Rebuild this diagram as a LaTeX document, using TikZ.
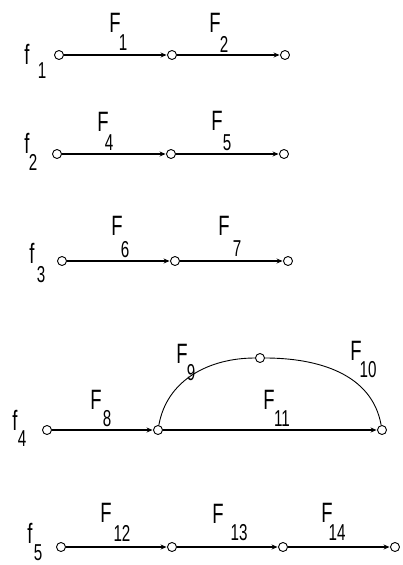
\documentclass[tikz,border=0pt]{standalone}
\usepackage{fontspec}
\usepackage{tikz}
\usetikzlibrary{arrows.meta}
\newfontfamily\graphfont{Liberation Sans}[FakeStretch=0.66]
\tikzset{
  % vertex: small open circle
  vtx/.style={circle, draw=black, fill=white, line width=0.9pt, minimum size=9pt, inner sep=0pt},
  % directed flow edge
  flow/.style={-{Stealth[length=6pt,width=5pt]}, line width=1.2pt, black, shorten >=0.5pt},
  % curved edge, no tip
  bow/.style={line width=0.9pt, black},
  % main letter of a label
  lbl/.style={inner sep=0pt, font=\graphfont\fontsize{28}{28}\selectfont},
  % index of a label
  idx/.style={inner sep=0pt, font=\graphfont\fontsize{23}{23}\selectfont},
}

\begin{document}
\begin{tikzpicture}[x=1pt, y=-1pt]
  \useasboundingbox (0,0) rectangle (403,565);

  % ── f_1 ──
  \node[lbl] (f1) at (27,54) {f};
  \node[idx] (f1i) at (42,71) {1};
  \node[vtx] (a1) at (59,55) {};
  \node[vtx] (a2) at (172,55) {};
  \node[vtx] (a3) at (285,55) {};
  \draw[flow] (a1) -- (a2);
  \draw[flow] (a2) -- (a3);
  \node[lbl] (F1) at (115,23) {F};
  \node[idx] (F1i) at (123,43) {1};
  \node[lbl] (F2) at (215,23) {F};
  \node[idx] (F2i) at (224,44) {2};

  % ── f_2 ──
  \node[lbl] (f2) at (27,143) {f};
  \node[idx] (f2i) at (33,162) {2};
  \node[vtx] (b1) at (57,154) {};
  \node[vtx] (b2) at (171,154) {};
  \node[vtx] (b3) at (284,154) {};
  \draw[flow] (b1) -- (b2);
  \draw[flow] (b2) -- (b3);
  \node[lbl] (F4) at (103,122) {F};
  \node[idx] (F4i) at (109,143) {4};
  \node[lbl] (F5) at (217,121) {F};
  \node[idx] (F5i) at (227,143) {5};

  % ── f_3 ──
  \node[lbl] (f3) at (32,253) {f};
  \node[idx] (f3i) at (41,275) {3};
  \node[vtx] (c1) at (62,261) {};
  \node[vtx] (c2) at (175,261) {};
  \node[vtx] (c3) at (288,261) {};
  \draw[flow] (c1) -- (c2);
  \draw[flow] (c2) -- (c3);
  \node[lbl] (F6) at (117,226) {F};
  \node[idx] (F6i) at (125,250) {6};
  \node[lbl] (F7) at (224,226) {F};
  \node[idx] (F7i) at (237,249) {7};

  % ── f_4: branch with arc ──
  \node[lbl] (f4) at (15,420) {f};
  \node[idx] (f4i) at (22,439) {4};
  \node[vtx] (d1) at (47,430) {};
  \node[vtx] (d2) at (158,430) {};
  \node[vtx] (d3) at (260,358) {};
  \node[vtx] (d4) at (382,430) {};
  \draw[flow] (d1) -- (d2);
  \draw[flow] (d2) -- (d4);
  \draw[bow] (d2) to[out=80, in=180] (d3);
  \draw[bow] (d3) to[out=0, in=100] (d4);
  \node[lbl] (F8) at (96,400) {F};
  \node[idx] (F8i) at (107,419) {8};
  \node[lbl] (F9) at (182,354) {F};
  \node[idx] (F9i) at (191,373) {9};
  \node[lbl] (F10) at (356,351) {F};
  \node[idx] (F10i) at (368,370) {10};
  \node[lbl] (F11) at (269,400) {F};
  \node[idx] (F11i) at (282,419) {11};

  % ── f_5 ──
  \node[lbl] (f5) at (30,533) {f};
  \node[idx] (f5i) at (38,553) {5};
  \node[vtx] (e1) at (61,547) {};
  \node[vtx] (e2) at (172,547) {};
  \node[vtx] (e3) at (283,547) {};
  \node[vtx] (e4) at (395,547) {};
  \draw[flow] (e1) -- (e2);
  \draw[flow] (e2) -- (e3);
  \draw[flow] (e3) -- (e4);
  \node[lbl] (F12) at (106,513) {F};
  \node[idx] (F12i) at (122,533) {12};
  \node[lbl] (F13) at (218,514) {F};
  \node[idx] (F13i) at (239,533) {13};
  \node[lbl] (F14) at (327,513) {F};
  \node[idx] (F14i) at (337,533) {14};
\end{tikzpicture}
\end{document}
